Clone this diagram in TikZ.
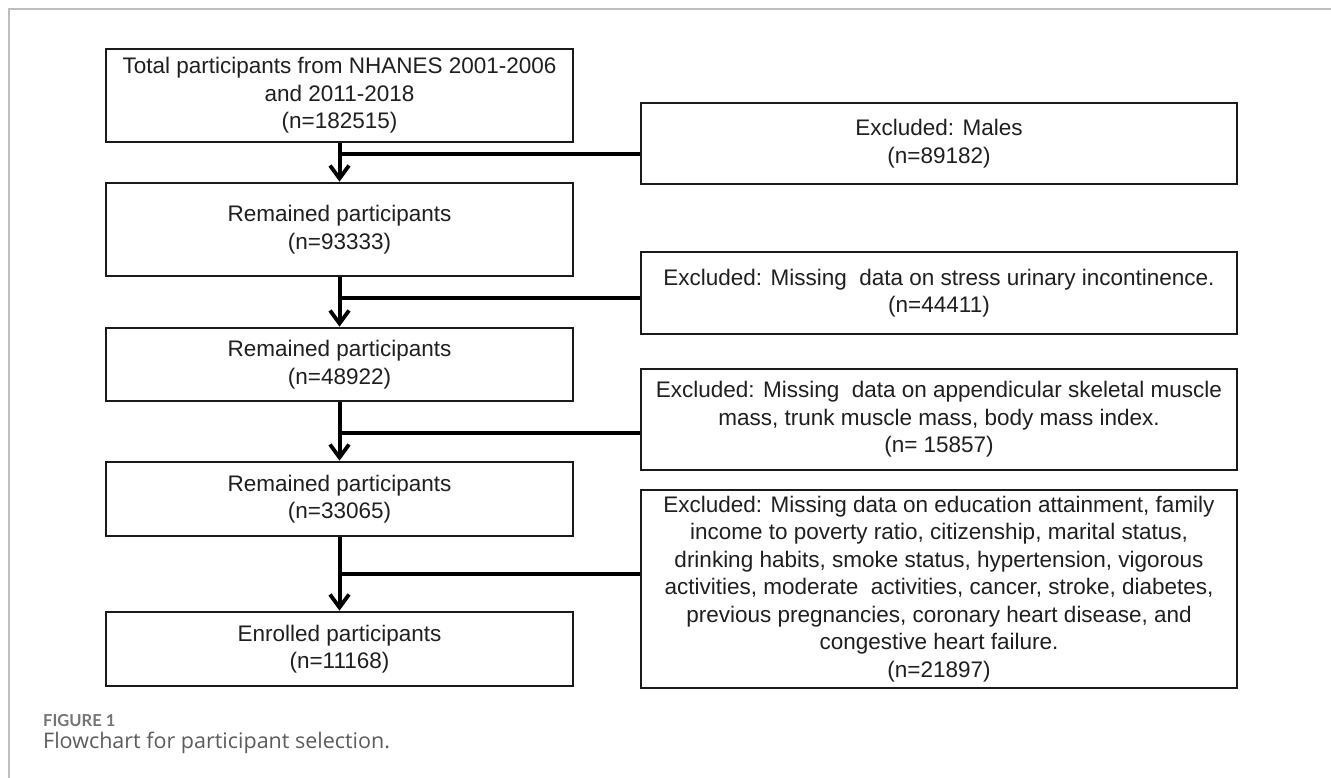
\documentclass[tikz,border=0pt]{standalone}
\usepackage{fontspec}
\setmainfont{Liberation Sans}
\newfontfamily\capfont{Open Sans}
\newfontfamily\figfont{Lato}
\usetikzlibrary{arrows.meta}
\definecolor{framegray}{HTML}{BDBDBD}
\definecolor{capgray}{HTML}{5C5C5C}
\definecolor{boxline}{HTML}{1A1A1A}
\tikzset{
  flowbox/.style={draw=boxline, line width=2.6pt, rectangle, inner sep=0pt, align=center,
    font=\fontsize{22.5}{27.5}\selectfont, text=black!88},
  leftbox/.style={flowbox, minimum width=467pt},
  rightbox/.style={flowbox, minimum width=596pt},
  spine/.style={draw=black, line width=4pt},
  arr/.style={spine, -{Straight Barb[length=13pt, width=19pt, line width=3.8pt]}},
}
\begin{document}
\begin{tikzpicture}[x=1pt, y=-1pt]
\useasboundingbox (0,0) rectangle (1331,778);
\fill[white] (0,0) rectangle (1331,778);
\draw[framegray, line width=1.3pt] (9,778) -- (9,9) -- (1331,9);

% left column
\node[leftbox, minimum height=93pt] (b1) at (339.5,95.5) {Total participants from NHANES 2001-2006\\and 2011-2018\\(n=182515)};
\node[leftbox, minimum height=93pt] (b2) at (339.5,229.5) {Remained participants\\(n=93333)};
\node[leftbox, minimum height=73pt] (b3) at (339.5,364.5) {Remained participants\\(n=48922)};
\node[leftbox, minimum height=74pt] (b4) at (339.5,499) {Remained participants\\(n=33065)};
\node[leftbox, minimum height=74pt] (b5) at (339.5,649) {Enrolled participants\\(n=11168)};

% right column
\node[rightbox, minimum height=81pt] (r1) at (939,143.5) {Excluded: Males\\(n=89182)};
\node[rightbox, minimum height=82pt] (r2) at (939,293) {Excluded: Missing\ \ data on stress urinary incontinence.\\(n=44411)};
\node[rightbox, minimum height=101pt] (r3) at (939,419.5) {Excluded: Missing\ \ data on appendicular skeletal muscle\\mass, trunk muscle mass, body mass index.\\(n= 15857)};
\node[rightbox, minimum height=198pt] (r4) at (939,589) {Excluded: Missing data on education attainment, family\\income to poverty ratio, citizenship, marital status,\\drinking habits, smoke status, hypertension, vigorous\\activities, moderate\ \ activities, cancer, stroke, diabetes,\\previous pregnancies, coronary heart disease, and\\congestive heart failure.\\(n=21897)};

% junction points on the spine
\coordinate (j1) at (339.5,154);
\coordinate (j2) at (339.5,298);
\coordinate (j3) at (339.5,433);
\coordinate (j4) at (339.5,574);

% vertical arrows
\draw[arr] (b1.south) -- (b2.north);
\draw[arr] (b2.south) -- (b3.north);
\draw[arr] (b3.south) -- (b4.north);
\draw[arr] (b4.south) -- (b5.north);

% horizontal connectors
\draw[spine] (j1) -- (j1 -| r1.west);
\draw[spine] (j2) -- (j2 -| r2.west);
\draw[spine] (j3) -- (j3 -| r3.west);
\draw[spine] (j4) -- (j4 -| r4.west);

% caption
\node[anchor=west, inner sep=0pt, text=capgray!85, font=\figfont\fontsize{16.5}{18}\selectfont\bfseries] (fig) at (43,721) {FIGURE 1};
\node[anchor=west, inner sep=0pt, text=capgray, font=\capfont\fontsize{21.5}{24}\selectfont] (cap) at (43,743) {Flowchart for participant selection.};
\end{tikzpicture}
\end{document}
